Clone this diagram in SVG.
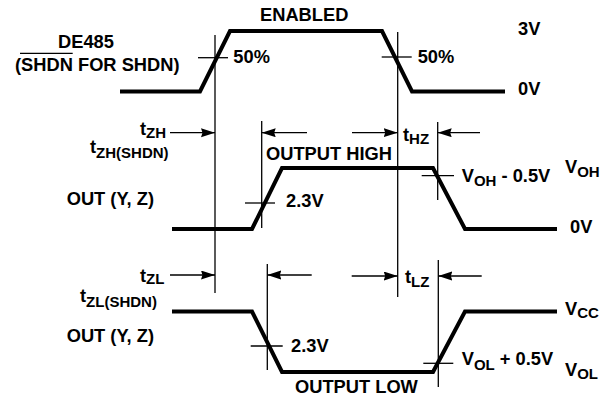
<svg xmlns="http://www.w3.org/2000/svg" width="611" height="396" viewBox="0 0 611 396">
<defs>
<style>
.t{font-family:"Liberation Sans",Arial,sans-serif;font-weight:bold;font-size:18.3px;fill:#000}
.s{font-size:15px}
.w{fill:none;stroke:#000;stroke-width:4;stroke-linejoin:miter}
.l{fill:none;stroke:#000;stroke-width:1.3}
.a{fill:none;stroke:#000;stroke-width:1.3;marker-end:url(#ah)}
</style>
<marker id="ah" markerWidth="15" markerHeight="10" refX="14" refY="4.5" orient="auto" markerUnits="userSpaceOnUse">
<path d="M0,0 L14,4.5 L0,9 L1.5,4.5 z" fill="#000"/>
</marker>
</defs>
<rect width="611" height="396" fill="#fff"/>

<g id="waveforms">
<polyline class="w" points="120,91.5 200,91.5 230,31 382,31 412,91.5 505,91.5"/>
<polyline class="w" points="172,229 252,229 282,168 433,168 465,229 557,229"/>
<polyline class="w" points="172,311.5 252,311.5 282,372 433,372 465,311.5 557,311.5"/>
</g>

<g id="connectors">
<line class="l" x1="215" y1="35" x2="215" y2="293"/>
<line class="l" x1="397.7" y1="32" x2="397.7" y2="297"/>
<line class="l" x1="261.7" y1="121" x2="261.7" y2="228"/>
<line class="l" x1="437.7" y1="122" x2="437.7" y2="200"/>
<line class="l" x1="267.3" y1="264" x2="267.3" y2="370"/>
<line class="l" x1="438.3" y1="260" x2="438.3" y2="387"/>
<line class="l" x1="198" y1="57.7" x2="228" y2="57.7"/>
<line class="l" x1="381.7" y1="57" x2="411.7" y2="57"/>
<line class="l" x1="245" y1="203" x2="275" y2="203"/>
<line class="l" x1="421.7" y1="175.7" x2="454" y2="175.7"/>
<line class="l" x1="250.7" y1="346" x2="282.7" y2="346"/>
<line class="l" x1="423.3" y1="363.3" x2="453.3" y2="363.3"/>
<line class="l" x1="20" y1="53.3" x2="72.7" y2="53.3"/>
<line class="a" x1="170" y1="132.7" x2="215" y2="132.7"/>
<line class="a" x1="307" y1="132.7" x2="261.7" y2="132.7"/>
<line class="a" x1="352" y1="132.7" x2="397.7" y2="132.7"/>
<line class="a" x1="480" y1="132.7" x2="437.7" y2="132.7"/>
<line class="a" x1="170" y1="275" x2="215" y2="275"/>
<line class="a" x1="311.7" y1="275" x2="267.3" y2="275"/>
<line class="a" x1="351.7" y1="276" x2="397.7" y2="276"/>
<line class="a" x1="481.7" y1="276" x2="438.3" y2="276"/>
</g>

<g id="labels">
<text class="t" x="260" y="20.7">ENABLED</text>
<text class="t" x="58" y="47.7">DE485</text>
<text class="t" x="15" y="71">(SHDN FOR SHDN)</text>
<text class="t" x="233.3" y="63.3">50%</text>
<text class="t" x="417.7" y="63.3">50%</text>
<text class="t" x="518" y="35">3V</text>
<text class="t" x="518" y="95">0V</text>

<text class="t" x="140" y="135">t<tspan class="s" dy="3">ZH</tspan></text>
<text class="t" x="90" y="153.3">t<tspan class="s" dy="5">ZH(SHDN)</tspan></text>
<text class="t" x="66.7" y="205">OUT (Y, Z)</text>
<text class="t" x="266" y="160">OUTPUT HIGH</text>
<text class="t" x="286" y="206.7">2.3V</text>
<text class="t" x="403" y="140.5">t<tspan class="s" dy="3">HZ</tspan></text>
<text class="t" x="461.7" y="181.7">V<tspan class="s" dy="4.5">OH</tspan><tspan dy="-4.5"> - 0.5V</tspan></text>
<text class="t" x="565" y="173.3">V<tspan class="s" dy="3.4">OH</tspan></text>
<text class="t" x="570" y="233">0V</text>

<text class="t" x="140" y="281.7">t<tspan class="s" dy="2">ZL</tspan></text>
<text class="t" x="80" y="301.7">t<tspan class="s" dy="5">ZL(SHDN)</tspan></text>
<text class="t" x="66.7" y="341.7">OUT (Y, Z)</text>
<text class="t" x="291" y="351.7">2.3V</text>
<text class="t" x="295" y="392.5">OUTPUT LOW</text>
<text class="t" x="405" y="283.3">t<tspan class="s" dy="3.4">LZ</tspan></text>
<text class="t" x="565" y="315">V<tspan class="s" dy="3.3">CC</tspan></text>
<text class="t" x="461.7" y="365">V<tspan class="s" dy="5">OL</tspan><tspan dy="-5"> + 0.5V</tspan></text>
<text class="t" x="565" y="376">V<tspan class="s" dy="2.5">OL</tspan></text>
</g>
</svg>
